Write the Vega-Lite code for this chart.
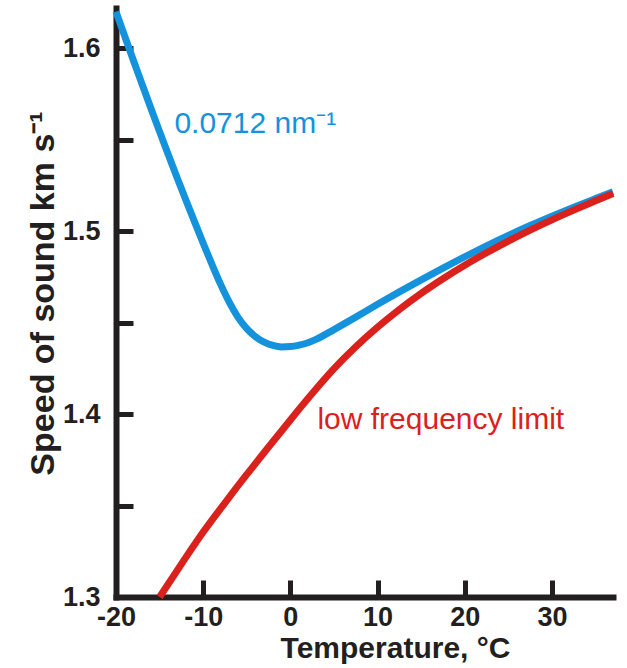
{
  "$schema": "https://vega.github.io/schema/vega-lite/v6.json",
  "width": 497,
  "height": 589,
  "autosize": {"type": "none"},
  "padding": {"left": 116, "top": 8, "right": 14, "bottom": 71},
  "background": "white",
  "config": {"view": {"stroke": null}},
  "datasets": {
    "curves": [
      {"T": -20, "v": 1.620, "series": "0.0712 nm⁻¹"},
      {"T": -19, "v": 1.6066, "series": "0.0712 nm⁻¹"},
      {"T": -18, "v": 1.5933, "series": "0.0712 nm⁻¹"},
      {"T": -17, "v": 1.5802, "series": "0.0712 nm⁻¹"},
      {"T": -16, "v": 1.5672, "series": "0.0712 nm⁻¹"},
      {"T": -15, "v": 1.5544, "series": "0.0712 nm⁻¹"},
      {"T": -14, "v": 1.5418, "series": "0.0712 nm⁻¹"},
      {"T": -13, "v": 1.5294, "series": "0.0712 nm⁻¹"},
      {"T": -12, "v": 1.5172, "series": "0.0712 nm⁻¹"},
      {"T": -11, "v": 1.5052, "series": "0.0712 nm⁻¹"},
      {"T": -10, "v": 1.4934, "series": "0.0712 nm⁻¹"},
      {"T": -9, "v": 1.4819, "series": "0.0712 nm⁻¹"},
      {"T": -8, "v": 1.4709, "series": "0.0712 nm⁻¹"},
      {"T": -7, "v": 1.4611, "series": "0.0712 nm⁻¹"},
      {"T": -6, "v": 1.4529, "series": "0.0712 nm⁻¹"},
      {"T": -5, "v": 1.4467, "series": "0.0712 nm⁻¹"},
      {"T": -4, "v": 1.4423, "series": "0.0712 nm⁻¹"},
      {"T": -3, "v": 1.4393, "series": "0.0712 nm⁻¹"},
      {"T": -2, "v": 1.4375, "series": "0.0712 nm⁻¹"},
      {"T": -1, "v": 1.4367, "series": "0.0712 nm⁻¹"},
      {"T": 0, "v": 1.4369, "series": "0.0712 nm⁻¹"},
      {"T": 1, "v": 1.4377, "series": "0.0712 nm⁻¹"},
      {"T": 2, "v": 1.4390, "series": "0.0712 nm⁻¹"},
      {"T": 3, "v": 1.4410, "series": "0.0712 nm⁻¹"},
      {"T": 5, "v": 1.4462, "series": "0.0712 nm⁻¹"},
      {"T": 7.5, "v": 1.4530, "series": "0.0712 nm⁻¹"},
      {"T": 10, "v": 1.4600, "series": "0.0712 nm⁻¹"},
      {"T": 12.5, "v": 1.4668, "series": "0.0712 nm⁻¹"},
      {"T": 15, "v": 1.4734, "series": "0.0712 nm⁻¹"},
      {"T": 17.5, "v": 1.4798, "series": "0.0712 nm⁻¹"},
      {"T": 20, "v": 1.4860, "series": "0.0712 nm⁻¹"},
      {"T": 22.5, "v": 1.4920, "series": "0.0712 nm⁻¹"},
      {"T": 25, "v": 1.4977, "series": "0.0712 nm⁻¹"},
      {"T": 27.5, "v": 1.5031, "series": "0.0712 nm⁻¹"},
      {"T": 30, "v": 1.5082, "series": "0.0712 nm⁻¹"},
      {"T": 32.5, "v": 1.5131, "series": "0.0712 nm⁻¹"},
      {"T": 35, "v": 1.5178, "series": "0.0712 nm⁻¹"},
      {"T": 37, "v": 1.5215, "series": "0.0712 nm⁻¹"},
      {"T": -15, "v": 1.300, "series": "low frequency limit"},
      {"T": -12.5, "v": 1.318, "series": "low frequency limit"},
      {"T": -10, "v": 1.3355, "series": "low frequency limit"},
      {"T": -7.5, "v": 1.3515, "series": "low frequency limit"},
      {"T": -5, "v": 1.367, "series": "low frequency limit"},
      {"T": -2.5, "v": 1.382, "series": "low frequency limit"},
      {"T": 0, "v": 1.3968, "series": "low frequency limit"},
      {"T": 2.5, "v": 1.4112, "series": "low frequency limit"},
      {"T": 5, "v": 1.4248, "series": "low frequency limit"},
      {"T": 7.5, "v": 1.4368, "series": "low frequency limit"},
      {"T": 10, "v": 1.4475, "series": "low frequency limit"},
      {"T": 12.5, "v": 1.4572, "series": "low frequency limit"},
      {"T": 15, "v": 1.4660, "series": "low frequency limit"},
      {"T": 17.5, "v": 1.4740, "series": "low frequency limit"},
      {"T": 20, "v": 1.4814, "series": "low frequency limit"},
      {"T": 22.5, "v": 1.4882, "series": "low frequency limit"},
      {"T": 25, "v": 1.4946, "series": "low frequency limit"},
      {"T": 27.5, "v": 1.5006, "series": "low frequency limit"},
      {"T": 30, "v": 1.5062, "series": "low frequency limit"},
      {"T": 32.5, "v": 1.5115, "series": "low frequency limit"},
      {"T": 35, "v": 1.5166, "series": "low frequency limit"},
      {"T": 37, "v": 1.5206, "series": "low frequency limit"}
    ],
    "labels": [
      {"T": -13.3, "v": 1.5536, "series": "0.0712 nm⁻¹"},
      {"T": 3.1, "v": 1.392, "series": "low frequency limit"}
    ]
  },
  "layer": [
    {
      "data": {"name": "curves"},
      "mark": {"type": "line", "strokeWidth": 7, "interpolate": "monotone", "clip": false},
      "encoding": {
        "x": {
          "field": "T", "type": "quantitative",
          "scale": {"domain": [-20, 37], "nice": false, "zero": false},
          "axis": {
            "title": "Temperature,  °C",
            "values": [-20, -10, 0, 10, 20, 30],
            "labelExpr": "replace(datum.label, '−', '-')",
            "grid": false,
            "domainColor": "#231f20", "domainWidth": 6, "domainCap": "square",
            "tickColor": "#231f20", "tickWidth": 5, "tickSize": -17,
            "labelPadding": 24,
            "labelFont": "Liberation Sans", "labelFontWeight": "bold", "labelFontSize": 27, "labelColor": "#231f20",
            "labelFlush": false, "labelOverlap": false,
            "titleFont": "Liberation Sans", "titleFontWeight": "bold", "titleFontSize": 30, "titleColor": "#231f20",
            "titleX": 279, "titleY": 60, "titleBaseline": "alphabetic", "titleAlign": "center"
          }
        },
        "y": {
          "field": "v", "type": "quantitative",
          "scale": {"domain": [1.3, 1.622], "nice": false, "zero": false},
          "axis": {
            "title": "Speed of sound km s⁻¹",
            "values": [1.3, 1.35, 1.4, 1.45, 1.5, 1.55, 1.6],
            "format": ".2~f",
            "labelExpr": "length(datum.label) == 3 ? datum.label : ''",
            "grid": false,
            "domainColor": "#231f20", "domainWidth": 6, "domainCap": "square",
            "tickColor": "#231f20", "tickWidth": 5, "tickSize": -17,
            "labelPadding": 33,
            "labelFont": "Liberation Sans", "labelFontWeight": "bold", "labelFontSize": 27, "labelColor": "#231f20",
            "labelFlush": false, "labelOverlap": false, "labelBaseline": "middle",
            "titleFont": "Liberation Sans", "titleFontWeight": "bold", "titleFontSize": 34, "titleColor": "#231f20",
            "titleX": -63, "titleY": 285, "titleBaseline": "alphabetic", "titleAlign": "center", "titleAngle": -90
          }
        },
        "color": {
          "field": "series", "type": "nominal",
          "scale": {"domain": ["0.0712 nm⁻¹", "low frequency limit"], "range": ["#1592dc", "#da211c"]},
          "legend": null
        },
        "order": {"field": "T", "type": "quantitative"}
      }
    },
    {
      "data": {"name": "labels"},
      "mark": {"type": "text", "align": "left", "baseline": "alphabetic", "font": "Liberation Sans", "fontSize": 30},
      "encoding": {
        "x": {"field": "T", "type": "quantitative"},
        "y": {"field": "v", "type": "quantitative"},
        "text": {"field": "series"},
        "color": {"field": "series", "type": "nominal", "legend": null}
      }
    }
  ]
}
